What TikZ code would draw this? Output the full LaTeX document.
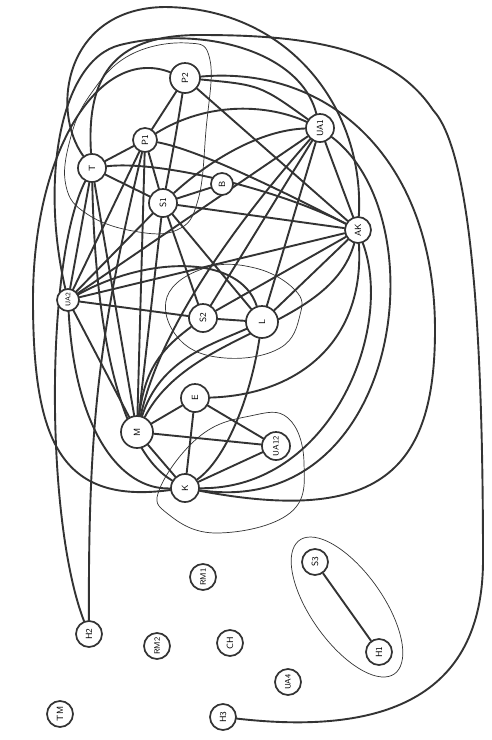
\documentclass[tikz,border=0pt]{standalone}
\usetikzlibrary{backgrounds}
\begin{document}
\begin{tikzpicture}[x=1pt,y=-1pt,
  vtx/.style={circle, draw=ink, line width=1.7pt, fill=white, inner sep=0pt, minimum size=#1, font=\sffamily\small, rotate=90},
  vtx/.default=26pt,
  edge/.style={draw=ink, line width=1.9pt},
  grp/.style={draw=ink, line width=0.7pt},
  every path/.style={line join=round, line cap=round}]
\definecolor{ink}{HTML}{333333}
\useasboundingbox (0,0) rectangle (492,740);
% nodes
\node[vtx=28pt] (T) at (92,168) {T};
\node[vtx=24pt] (P1) at (145,140) {P1};
\node[vtx=30pt] (P2) at (185,78) {P2};
\node[vtx=28pt] (S1) at (163,203) {S1};
\node[vtx=22pt] (B) at (222,184) {B};
\node[vtx=28pt] (UA1) at (320,128) {UA1};
\node[vtx=26pt] (AK) at (358,230) {AK};
\node[vtx=22pt] (UA2) at (68,300) {\scriptsize UA2};
\node[vtx=28pt] (S2) at (203,318) {S2};
\node[vtx=32pt] (L) at (262,322) {L};
\node[vtx=28pt] (E) at (195,398) {E};
\node[vtx=32pt] (M) at (137,432) {M};
\node[vtx=28pt] (UA12) at (276,446) {\footnotesize UA12};
\node[vtx=28pt] (K) at (185,488) {K};
\node[vtx] (S3) at (315,562) {S3};
\node[vtx] (H1) at (379,652) {H1};
\node[vtx] (RM1) at (203,577) {\footnotesize RM1};
\node[vtx] (H2) at (89,634) {H2};
\node[vtx] (RM2) at (157,646) {\footnotesize RM2};
\node[vtx] (CH) at (230,643) {CH};
\node[vtx] (UA4) at (288,682) {\footnotesize UA4};
\node[vtx] (TM) at (60,714) {TM};
\node[vtx] (H3) at (223,717) {H3};
\begin{pgfonlayer}{background}
\fill[white] (0,0) rectangle (492,740);
% thin groupings
\draw[grp] plot[smooth cycle, tension=0.7] coordinates {(187,43) (210,60) (206,130) (198,200) (177,230) (133,231) (87,214) (66,186) (70,140) (90,95) (130,55)};
\draw[grp] plot[smooth cycle, tension=0.7] coordinates {(167,297) (205,268) (255,268) (295,290) (300,315) (280,348) (225,358) (180,340)};
\draw[grp] plot[smooth cycle, tension=0.7] coordinates {(160,488) (200,436) (250,416) (288,418) (304,463) (290,513) (217,533) (168,514)};
\draw[grp] plot[domain=0:360, samples=72, smooth cycle] ({347+82*cos(\x)*0.579-36*sin(\x)*0.815}, {607+82*cos(\x)*0.815+36*sin(\x)*0.579});
% top cluster
\draw[edge] (T) -- (P1);
\draw[edge] (P1) -- (P2);
\draw[edge] (P1) -- (S1);
\draw[edge] (P2) .. controls (175,140) .. (S1);
\draw[edge] (T) -- (S1);
\draw[edge] (S1) -- (B);
\draw[edge] (P2) .. controls (260,85) .. (UA1);
\draw[edge] (P1) .. controls (210,100) and (270,105) .. (UA1);
\draw[edge] (S1) .. controls (210,160) and (260,130) .. (UA1);
\draw[edge] (UA1) -- (AK);
\draw[edge] (P2) -- (AK);
\draw[edge] (P1) .. controls (200,150) and (290,195) .. (AK);
\draw[edge] (S1) -- (AK);
\draw[edge] (T) .. controls (160,160) and (280,190) .. (AK);
% from UA1 down-left
\draw[edge] (UA1) -- (S2);
\draw[edge] (UA1) -- (UA2);
\draw[edge] (UA1) -- (L);
\draw[edge] (UA1) .. controls (230,230) and (160,330) .. (M);
% from AK
\draw[edge] (AK) -- (S2);
\draw[edge] (AK) -- (L);
\draw[edge] (AK) -- (UA2);
\draw[edge] (AK) .. controls (330,330) and (190,330) .. (M);
% from S1
\draw[edge] (S1) -- (S2);
\draw[edge] (S1) -- (L);
\draw[edge] (S1) -- (UA2);
\draw[edge] (S1) -- (M);
% P1
\draw[edge] (P1) -- (M);
\draw[edge] (P1) -- (UA2);
\draw[edge] (P1) .. controls (100,330) and (88,420) .. (H2);
% T
\draw[edge] (T) -- (UA2);
\draw[edge] (T) -- (M);
\draw[edge] (T) .. controls (95,330) and (120,450) .. (K);
\draw[edge] (T) .. controls (45,260) and (45,520) .. (H2);
% UA2
\draw[edge] (UA2) -- (S2);
\draw[edge] (UA2) -- (M);
\draw[edge] (UA2) .. controls (75,430) and (120,490) .. (K);
\draw[edge] (UA2) .. controls (150,255) and (240,255) .. (L);
% middle
\draw[edge] (S2) -- (L);
\draw[edge] (S2) .. controls (160,350) and (145,370) .. (M);
\draw[edge] (L) .. controls (210,345) and (160,360) .. (M);
\draw[edge] (L) .. controls (250,400) and (225,460) .. (K);
\draw[edge] (E) -- (M);
\draw[edge] (E) -- (K);
\draw[edge] (E) -- (UA12);
\draw[edge] (E) .. controls (300,395) and (365,340) .. (AK);
\draw[edge] (M) -- (UA12);
\draw[edge] (M) -- (K);
\draw[edge] (K) -- (UA12);
\draw[edge] (S3) -- (H1);
% big right loops
\draw[edge] (K) .. controls (330,490) and (395,330) .. (AK);
\draw[edge] (K) .. controls (400,520) and (440,220) .. (UA1);
\draw[edge] (K) .. controls (380,525) and (435,470) .. (435,330) .. controls (435,160) and (330,65) .. (P2);
\draw[edge] (H3) .. controls (380,735) and (483,700) .. (483,560) .. controls (483,320) and (470,150) .. (433,110) .. controls (390,45) and (300,35) .. (200,35) .. controls (130,35) and (85,60) .. (T);
% big top and left loops
\draw[edge] (T) .. controls (50,110) and (65,8) .. (165,7) .. controls (290,8) and (365,110) .. (AK);
\draw[edge] (UA2) .. controls (40,180) and (60,60) .. (120,45) .. controls (200,25) and (300,50) .. (UA1);
\draw[edge] (K) .. controls (60,505) and (33,440) .. (33,300) .. controls (33,150) and (100,45) .. (P2);
\end{pgfonlayer}
\end{tikzpicture}
\end{document}
